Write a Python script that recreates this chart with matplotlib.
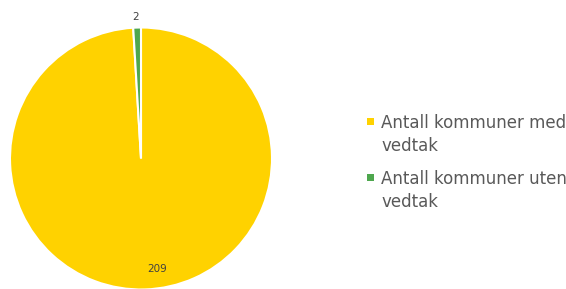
import numpy as np
from matplotlib import pyplot as plt
from matplotlib.patches import Rectangle

labels = ["Antall kommuner med\nvedtak", "Antall kommuner uten\nvedtak"]
values = [209, 2]
colors = ["#FFD200", "#4EA74E"]

W, H = 566, 289
fig = plt.figure(figsize=(W / 100, H / 100), dpi=100)
# pie centre ~ (141, 158.5), radius ~131 px
ax = fig.add_axes([(141 - 131) / W, (H - 158.5 - 131) / H, 262 / W, 262 / H])

wedges, _ = ax.pie(values, colors=colors, startangle=90, counterclock=False,
                   wedgeprops=dict(edgecolor="white", linewidth=1.5))
ax.set_xlim(-1, 1)
ax.set_ylim(-1, 1)
ax.set_aspect("equal")
ax.axis("off")

# data labels
ax.text(0.12, -0.84, str(values[0]), ha="center", va="center",
        fontsize=7.5, color="#404040")
ax.text(-0.04, 1.08, str(values[1]), ha="center", va="center",
        fontsize=7.5, color="#404040")

# legend drawn by hand so the marker sits on the first line
first_base = [128, 184]   # pixel y of first-line baseline
line_gap = 23
for lab, col, yb in zip(labels, colors, first_base):
    fig.add_artist(Rectangle((367 / W, 1 - (yb - 3) / H), 7 / W, 7 / H,
                             transform=fig.transFigure, facecolor=col,
                             edgecolor="none"))
    for k, line in enumerate(lab.split("\n")):
        fig.text(381 / W, 1 - (yb + k * line_gap) / H, line, ha="left",
                 va="baseline", fontsize=12, color="#595959")

fig.savefig("out.png", dpi=100)
